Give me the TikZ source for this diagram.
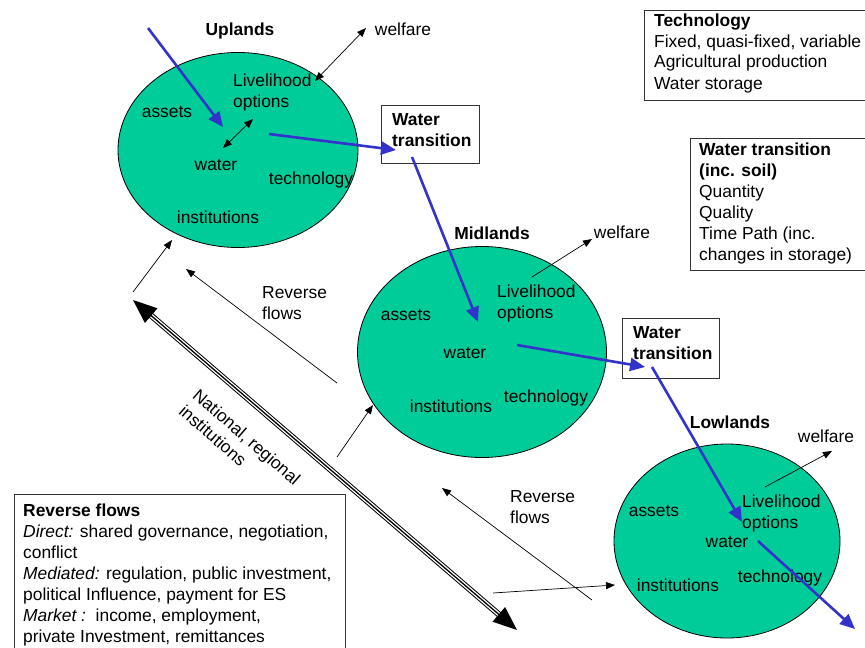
\documentclass[tikz,border=0pt]{standalone}
\usepackage{fontspec}
\setmainfont{Liberation Sans}
\usetikzlibrary{arrows.meta,shapes.geometric}
\definecolor{zone}{HTML}{00CC99}
\definecolor{flow}{HTML}{3333CC}
\tikzset{
  zonefill/.style={draw=black,line width=0.8pt,fill=zone},
  txt/.style={inner sep=0pt,font=\fontsize{17.4}{21}\selectfont},
  ttl/.style={txt,font=\fontsize{17.4}{21}\selectfont\bfseries},
  mtxt/.style={txt,align=left,anchor=west},
  infobox/.style={draw=black!80,line width=0.8pt},
  blueflow/.style={draw=flow,line width=2.6pt,-{Triangle[length=15pt,width=13pt]}},
  thinarrow/.style={draw=black,line width=0.7pt,-{Triangle[length=9pt,width=7pt]}},
  thinboth/.style={draw=black,line width=0.7pt,{Triangle[length=9pt,width=7pt]}-{Triangle[length=9pt,width=7pt]}},
}
\begin{document}
\begin{tikzpicture}[x=1pt,y=-1pt]
\useasboundingbox (0,0) rectangle (865,648);
% zones
\node[ellipse,zonefill,minimum width=240pt,minimum height=195pt,inner sep=0pt] (up) at (238,150) {};
\node[ellipse,zonefill,minimum width=249pt,minimum height=211pt,inner sep=0pt] (mid) at (482,352) {};
\node[ellipse,zonefill,minimum width=226pt,minimum height=194pt,inner sep=0pt] (low) at (727,541) {};
% Uplands texts
\node[ttl] (uplt) at (240,31) {Uplands};
\node[txt] (upw) at (403,29) {welfare};
\node[mtxt] (upl) at (233,92.5) {Livelihood\\options};
\node[txt] (upa) at (167,112) {assets};
\node[txt] (upwa) at (216,165) {water};
\node[txt] (upt) at (311,180) {technology};
\node[txt] (upi) at (218,217) {institutions};
% Midlands texts
\node[ttl] (midt) at (492,233) {Midlands};
\node[txt] (midw) at (622,232) {welfare};
\node[mtxt] (midl) at (497,303.5) {Livelihood\\options};
\node[txt] (mida) at (406,315) {assets};
\node[txt] (midwa) at (465,353) {water};
\node[txt] (midte) at (546,398) {technology};
\node[txt] (midi) at (451,406) {institutions};
% Lowlands texts
\node[ttl] (lowt) at (730,422) {Lowlands};
\node[txt] (loww) at (826,436) {welfare};
\node[mtxt] (lowl) at (742,513.5) {Livelihood\\options};
\node[txt] (lowa) at (654,511) {assets};
\node[txt] (lowwa) at (727,542) {water};
\node[txt] (lowte) at (780,578) {technology};
\node[txt] (lowi) at (678,585) {institutions};
% water transition boxes
\draw[infobox,fill=white] (381,105) rectangle (479,163);
\node[mtxt,font=\fontsize{17.4}{21}\selectfont\bfseries] (wt1) at (392,130.5) {Water\\transition};
\draw[infobox,fill=white] (622,318) rectangle (719,378);
\node[mtxt,font=\fontsize{17.4}{21}\selectfont\bfseries] (wt2) at (633,343.5) {Water\\transition};
% info boxes
\draw[infobox] (644,10) rectangle (865,100);
\node[mtxt] (techbox) at (654,53) {\textbf{Technology}\\Fixed, quasi-fixed, variable\\Agricultural production\\Water storage};
\draw[infobox] (690,138) rectangle (865,270);
\node[mtxt] (wtbox) at (699,203) {\textbf{Water transition}\\\textbf{(inc. soil)}\\Quantity\\Quality\\Time Path (inc.\\changes in storage)};
\draw[infobox] (14,648) -- (14,494) -- (345,494) -- (345,648);
\node[mtxt] (rfbox) at (23,574.5) {\textbf{Reverse flows}\\\textit{Direct:} shared governance, negotiation,\\conflict\\\textit{Mediated:} regulation, public investment,\\political Influence, payment for ES\\\textit{Market :}\ \ income, employment,\\private Investment, remittances};
% reverse flow labels
\node[mtxt] (rf1) at (262,303.5) {Reverse\\flows};
\node[mtxt] (rf2) at (510,507.5) {Reverse\\flows};
\node[txt,align=left,rotate=-41] (nat) at (240,445) {National, regional\\institutions};
% coordinates
\coordinate (b1s) at (148,28);  \coordinate (b1e) at (223,127);
\coordinate (b2s) at (269,134); \coordinate (b2e) at (396,150);
\coordinate (b3s) at (412,157); \coordinate (b3e) at (478,322);
\coordinate (b4s) at (517,345); \coordinate (b4e) at (645,367);
\coordinate (b5s) at (652,367); \coordinate (b5e) at (742,522);
\coordinate (b6s) at (758,541); \coordinate (b6e) at (855,629);
\coordinate (d1s) at (223,148); \coordinate (d1e) at (253,119);
\coordinate (w1s) at (315,81);  \coordinate (w1e) at (366,28);
\coordinate (w2s) at (532,277); \coordinate (w2e) at (592,239);
\coordinate (w3s) at (765,487); \coordinate (w3e) at (832,451);
\coordinate (a1s) at (133,292); \coordinate (a1e) at (172,240);
\coordinate (a2s) at (337,383); \coordinate (a2e) at (186,269);
\coordinate (a3s) at (337,457); \coordinate (a3e) at (373,405);
\coordinate (a4s) at (592,600); \coordinate (a4e) at (442,488);
\coordinate (a5s) at (493,593); \coordinate (a5e) at (615,585);
\coordinate (nt1) at (133,300); \coordinate (nt2) at (517,630);
% blue flows
\draw[blueflow] (b1s) -- (b1e);
\draw[blueflow] (b2s) -- (b2e);
\draw[blueflow] (b3s) -- (b3e);
\draw[blueflow] (b4s) -- (b4e);
\draw[blueflow] (b5s) -- (b5e);
\draw[blueflow] (b6s) -- (b6e);
% thin arrows
\draw[thinboth] (d1s) -- (d1e);
\draw[thinboth] (w1s) -- (w1e);
\draw[thinarrow] (w2s) -- (w2e);
\draw[thinarrow] (w3s) -- (w3e);
\draw[thinarrow] (a1s) -- (a1e);
\draw[thinarrow] (a2s) -- (a2e);
\draw[thinarrow] (a3s) -- (a3e);
\draw[thinarrow] (a4s) -- (a4e);
\draw[thinarrow] (a5s) -- (a5e);
% national institutions triple arrow
\draw[black,line width=6pt,shorten <=18pt,shorten >=18pt] (nt1) -- (nt2);
\draw[white,line width=4pt,shorten <=18pt,shorten >=18pt] (nt1) -- (nt2);
\draw[black,line width=1.3pt,{Triangle[length=24pt,width=19pt]}-{Triangle[length=24pt,width=19pt]}] (nt1) -- (nt2);
\end{tikzpicture}
\end{document}
